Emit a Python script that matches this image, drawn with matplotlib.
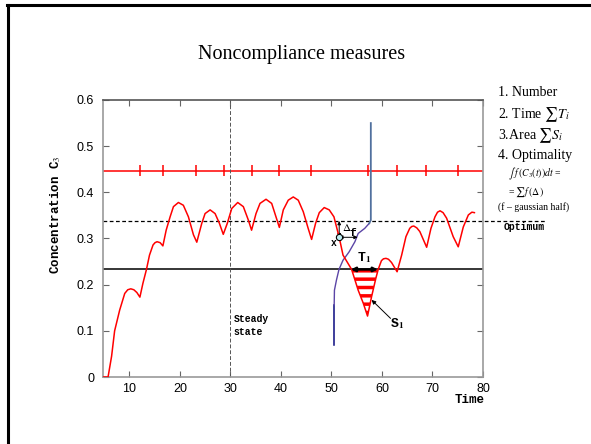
import numpy as np
import matplotlib.pyplot as plt
from matplotlib.lines import Line2D

plt.rcParams['mathtext.fontset'] = 'stix'
plt.rcParams['hatch.linewidth'] = 2.5

# concentration C3
t_c = [4.7, 5.8, 6.5, 7.1, 8.1, 9.1, 9.7, 10.3, 10.9, 11.5,
       12.1, 12.7, 13.4, 14.0, 14.7, 15.1, 15.5, 16.1, 16.65, 17.3,
       18.08, 18.74, 19.72, 20.7, 21.7, 22.7, 23.36, 24.35, 25.0, 26.0,
       26.98, 27.83, 28.6, 29.4, 30.28, 31.46, 32.57, 33.56, 34.2, 35.08,
       35.87, 37.06, 38.18, 39.03, 39.7, 40.48, 41.46, 42.45, 43.44, 44.43,
       45.4, 46.08, 46.87, 47.6, 48.58, 49.57, 50.5, 51.54, 52.3, 54.0,
       55.3, 56.3, 57.15, 57.95, 58.8, 59.26, 59.9, 60.3, 60.8, 61.3,
       61.9, 63.0, 63.9, 64.75, 65.5, 65.9, 66.3, 66.9, 67.5, 68.85,
       69.7, 70.5, 71.0, 71.5, 72.1, 72.8, 74.1, 75.1, 76.1, 77.1,
       77.8, 78.3]
c3 = [0, 0, 0.045, 0.10, 0.145, 0.181, 0.189, 0.191, 0.189, 0.183,
      0.173, 0.203, 0.233, 0.264, 0.286, 0.291, 0.293, 0.291, 0.284, 0.318,
      0.347, 0.369, 0.378, 0.372, 0.347, 0.308, 0.292, 0.333, 0.354, 0.362,
      0.354, 0.333, 0.309, 0.333, 0.365, 0.378, 0.369, 0.340, 0.318, 0.354,
      0.376, 0.385, 0.376, 0.347, 0.324, 0.362, 0.383, 0.390, 0.383, 0.358,
      0.322, 0.298, 0.333, 0.356, 0.367, 0.362, 0.347, 0.3026, 0.264, 0.233,
      0.188, 0.160, 0.132, 0.174, 0.214, 0.233, 0.252, 0.256, 0.257, 0.255,
      0.248, 0.228, 0.264, 0.304, 0.322, 0.326, 0.327, 0.323, 0.315, 0.281,
      0.322, 0.347, 0.357, 0.360, 0.356, 0.344, 0.304, 0.282, 0.325, 0.351,
      0.357, 0.356]

# marks on the "number" line (at the minima)
min_times = [12.2, 16.6, 23.2, 28.7, 34.2, 39.7, 46.0, 57.2, 63.0, 68.8, 75.1]
number_level = 0.447
optimum = 0.338
threshold = 0.233
steady_t = 30

# gaussian-half weight curve
g_t = [50.55, 50.55, 50.6, 51.0, 51.5, 52.3, 53.5, 54.65, 55.3, 56.6, 57.5, 57.8, 57.8]
g_v = [0.069, 0.156, 0.188, 0.210, 0.233, 0.253, 0.271, 0.293, 0.311, 0.322, 0.333, 0.340, 0.550]

x_pt = (51.54, 0.3026)
f_end = 55.2
t1_span = (53.85, 59.2)

fig = plt.figure(figsize=(5.91, 4.44), dpi=100)
ax = fig.add_axes([102.5/591, 1-377/444, 380.5/591, 277/444])

# slide frame
fig.add_artist(Line2D([0.014, 0.014], [-0.05, 0.989], color='black', lw=2.2, transform=fig.transFigure))
fig.add_artist(Line2D([0.012, 1.05], [0.989, 0.989], color='black', lw=2.2, transform=fig.transFigure))

ax.plot(t_c, c3, color='red', lw=1.1, zorder=4)

ax.axhline(number_level, color='red', lw=1.1)
ax.vlines(min_times, number_level - 0.012, number_level + 0.012, color='red', lw=1.1)

ax.plot([4.7, 92.2], [optimum, optimum], color='black', lw=0.9, ls=(0, (3, 2)), clip_on=False)
ax.axhline(threshold, color='black', lw=1.1)
ax.axvline(steady_t, color='#555555', lw=0.7, ls=(0, (4, 2)))

# S1 hatched area
tc = np.array(t_c)
cc = np.array(c3)
sel = (tc >= 53.9) & (tc <= 59.3)
ax.fill_between(tc[sel], cc[sel], threshold, where=cc[sel] <= threshold,
                facecolor='none', edgecolor='red', hatch='--', lw=0, zorder=3)

# gaussian half
ax.plot(g_t[:2], g_v[:2], color='#0a0a80', lw=1.1)
ax.plot(g_t[1:11], g_v[1:11], color='#5b45a6', lw=1.0)
ax.plot(g_t[10:], g_v[10:], color='#50709e', lw=1.3)

# Delta and f arrows
ax.annotate('', xy=(x_pt[0], optimum), xytext=x_pt,
            arrowprops=dict(arrowstyle='<|-|>', color='black', lw=0.7, mutation_scale=5, shrinkA=0, shrinkB=0))
ax.annotate('', xy=(f_end, x_pt[1]), xytext=x_pt,
            arrowprops=dict(arrowstyle='<|-|>', color='black', lw=0.7, mutation_scale=5, shrinkA=0, shrinkB=0))
ax.plot(*x_pt, 'o', ms=4.5, mfc='#bfeef2', mec='black', mew=0.8, zorder=6)
ax.text(52.0, 0.324, r'$\Delta$', fontsize=8, ha='left', va='center')
ax.text(53.6, 0.3125, 'f', family='Liberation Mono', weight='bold', fontsize=8, ha='left', va='center')
ax.text(50.4, 0.29, 'x', family='Liberation Mono', weight='bold', fontsize=7, ha='center', va='center')

# T1
ax.annotate('', xy=(t1_span[1], threshold), xytext=(t1_span[0], threshold),
            arrowprops=dict(arrowstyle='<|-|>', color='black', lw=1.8, mutation_scale=6, shrinkA=0, shrinkB=0), zorder=5)
ax.text(56.5, 0.258, r'T$_\mathbf{1}$', family='Liberation Mono', weight='bold', fontsize=9.5, ha='center', va='center')

# S1
ax.annotate('', xy=(57.95, 0.167), xytext=(61.7, 0.127),
            arrowprops=dict(arrowstyle='-|>', color='black', lw=0.7, mutation_scale=6, shrinkA=0, shrinkB=0))
ax.text(63.0, 0.115, r'S$_\mathbf{1}$', family='Liberation Mono', weight='bold', fontsize=9.5, ha='center', va='center')

ax.text(30.6, 0.126, 'Steady', family='Liberation Mono', weight='bold', fontsize=7, ha='left', va='center')
ax.text(30.6, 0.097, 'state', family='Liberation Mono', weight='bold', fontsize=7, ha='left', va='center')

ax.set_xlim(4.7, 80)
ax.set_ylim(0, 0.6)
ax.set_xticks([10, 20, 30, 40, 50, 60, 70, 80])
ax.set_yticks([0, 0.1, 0.2, 0.3, 0.4, 0.5, 0.6])
ax.set_yticklabels(['0', '0.1', '0.2', '0.3', '0.4', '0.5', '0.6'])
ax.tick_params(direction='in', length=4, width=0.8, color='#666666', top=True, right=True,
               labelsize=9, labelfontfamily='Liberation Sans')
ax.tick_params(axis='y', pad=6)
ax.tick_params(axis='x', pad=4)
for s in ax.spines.values():
    s.set_color('#999999')
    s.set_linewidth(1.2)
ax.spines['top'].set_color('#555555')

ax.set_ylabel(r'Concentration C$_3$', family='Liberation Mono', weight='bold', fontsize=9)
ax.yaxis.set_label_coords(-0.105, 0.585)
ax.text(0.965, -0.083, 'Time', transform=ax.transAxes, family='Liberation Mono', weight='bold',
        fontsize=9, ha='center', va='center')

fig.text(301.5/591, 1-55/444, 'Noncompliance measures', family='Liberation Serif', fontsize=14.5,
         ha='center', va='center')

ax.text((524-102.5)/380.5, (377-227)/277, 'Optimum', transform=ax.transAxes, family='Liberation Mono',
        weight='bold', fontsize=7, ha='center', va='center')

side = [(497.5, 93, '1. Number', 10),
        (497.5, 115, r'2. Time $\sum T_i$', 10),
        (497.5, 136, r'3.Area $\sum S_i$', 10),
        (497.5, 156, '4. Optimality', 10),
        (508, 174, r'$\int\;f\,(C_3(t))dt$ =', 7),
        (508, 192, r'= $\sum f\,(\Delta)$', 7),
        (497.5, 207, '(f \u2013 gaussian half)', 7)]
for x, y, s, fs in side:
    fig.text(x/591, 1-y/444, s, family='Liberation Serif', fontsize=fs, ha='left', va='center')

fig.savefig('out.png', dpi=100)
